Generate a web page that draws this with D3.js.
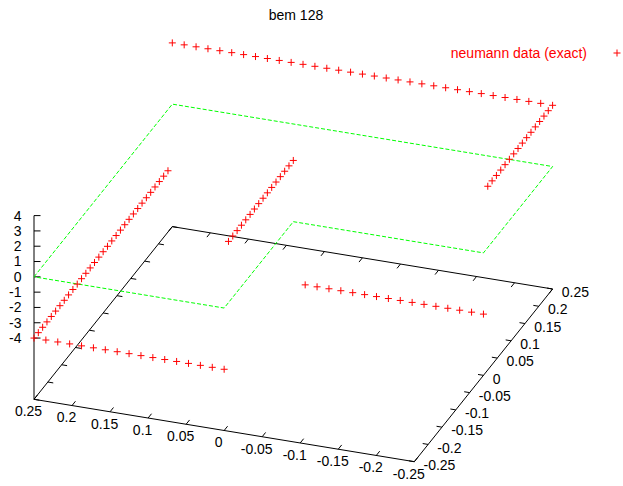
<!DOCTYPE html>
<html>
<head>
<meta charset="utf-8">
<script src="https://cdn.jsdelivr.net/npm/d3@7"></script>
<style>
  html, body { margin: 0; padding: 0; background: #fff; }
  svg { display: block; font-family: "Liberation Sans", Arial, sans-serif; }
</style>
</head>
<body>
<svg id="chart" width="623" height="486"></svg>
<script>
// ---- data -------------------------------------------------------------
const title = "bem 128";
const seriesName = "neumann data (exact)";

// Boundary nodes of the L-shaped domain, in units of 1/64
const nodeX64 = [
  -16,-15,-14,-13,-12,-11,-10,-9,-8,-7,-6,-5,-4,-3,-2,-1,
  0,0,0,0,0,0,0,0,0,0,0,0,0,0,0,0,
  0,1,2,3,4,5,6,7,8,9,10,11,12,13,14,15,
  16,16,16,16,16,16,16,16,16,16,16,16,16,16,16,16,
  16,16,16,16,16,16,16,16,16,16,16,16,16,16,16,16,
  16,15,14,13,12,11,10,9,8,7,6,5,4,3,2,1,
  0,-1,-2,-3,-4,-5,-6,-7,-8,-9,-10,-11,-12,-13,-14,-15,
  -16,-16,-16,-16,-16,-16,-16,-16,-16,-16,-16,-16,-16,-16,-16,-16
];
const nodeY64 = [
  0,0,0,0,0,0,0,0,0,0,0,0,0,0,0,0,
  0,-1,-2,-3,-4,-5,-6,-7,-8,-9,-10,-11,-12,-13,-14,-15,
  -16,-16,-16,-16,-16,-16,-16,-16,-16,-16,-16,-16,-16,-16,-16,-16,
  -16,-15,-14,-13,-12,-11,-10,-9,-8,-7,-6,-5,-4,-3,-2,-1,
  0,1,2,3,4,5,6,7,8,9,10,11,12,13,14,15,
  16,16,16,16,16,16,16,16,16,16,16,16,16,16,16,16,
  16,16,16,16,16,16,16,16,16,16,16,16,16,16,16,16,
  16,15,14,13,12,11,10,9,8,7,6,5,4,3,2,1
];
// Normal derivative at each node
const neumannValues = [
  -4,-4,-4,-4,-4,-4,-4,-4,-4,-4,-4,-4,-4,-4,-4,-4,
  4,4,4,4,4,4,4,4,4,4,4,4,4,4,4,4,
  -4,-4,-4,-4,-4,-4,-4,-4,-4,-4,-4,-4,-4,-4,-4,-4,
  -4,-4,-4,-4,-4,-4,-4,-4,-4,-4,-4,-4,-4,-4,-4,-4,
  -4,-4,-4,-4,-4,-4,-4,-4,-4,-4,-4,-4,-4,-4,-4,-4,
  4,4,4,4,4,4,4,4,4,4,4,4,4,4,4,4,
  4,4,4,4,4,4,4,4,4,4,4,4,4,4,4,4,
  4,4,4,4,4,4,4,4,4,4,4,4,4,4,4,4
];

// Domain outline (drawn at z = 0)
const outlineX = [0.25, 0.25, -0.25, -0.25, 0, 0, 0.25];
const outlineY = [-0.25, 0.25, 0.25, 0, 0, -0.25, -0.25];

// Tick labels
const xTickLabels = ["0.25","0.2","0.15","0.1","0.05","0","-0.05","-0.1","-0.15","-0.2","-0.25"];
const yTickLabels = ["-0.25","-0.2","-0.15","-0.1","-0.05","0","0.05","0.1","0.15","0.2","0.25"];
const zTickLabels = ["-4","-3","-2","-1","0","1","2","3","4"];

// ---- projection -------------------------------------------------------
const xScale = d3.scaleLinear().domain([0.25, -0.25]).range([0, 1]);
const yScale = d3.scaleLinear().domain([-0.25, 0.25]).range([0, 1]);
const zScale = d3.scaleLinear().domain([-8, 4]).range([0, -183.7]);
const origin = [34, 399.3];        // screen position of (x=0.25, y=-0.25, base)
const xSpan = [380.3, 62.4];       // screen vector along the full x range
const ySpan = [138.3, -172.7];     // screen vector along the full y range

function project(x, y, z) {
  const u = xScale(x), v = yScale(y);
  return [origin[0] + u * xSpan[0] + v * ySpan[0],
          origin[1] + u * xSpan[1] + v * ySpan[1] + zScale(z)];
}

const zBase = -8, zMin = -4, zMax = 4;
const svg = d3.select("#chart");
svg.append("rect").attr("width", 623).attr("height", 486).attr("fill", "#fff");

const fontSize = 14;
const lineGen = d3.line();

// ---- base frame -------------------------------------------------------
const frame = [
  project(0.25, -0.25, zBase), project(-0.25, -0.25, zBase),
  project(-0.25, 0.25, zBase), project(0.25, 0.25, zBase),
  project(0.25, -0.25, zBase)
];
svg.append("path").attr("d", lineGen(frame))
  .attr("fill", "none").attr("stroke", "#000").attr("stroke-width", 1);

// unit screen directions
function dir(a, b) {
  const dx = b[0] - a[0], dy = b[1] - a[1], l = Math.hypot(dx, dy);
  return [dx / l, dy / l];
}
const dirPlusY = dir(project(0, -0.25, zBase), project(0, 0.25, zBase));
const dirPlusX = dir(project(-0.25, 0, zBase), project(0.25, 0, zBase));
const ticLen = 5.5;

const axes = svg.append("g").attr("stroke", "#000").attr("stroke-width", 1).attr("fill", "none");
const labels = svg.append("g").attr("font-size", fontSize).attr("fill", "#000");

// x tics: front edge with labels, mirrored on the back edge
xTickLabels.forEach(t => {
  const v = +t;
  const p = project(v, -0.25, zBase);
  axes.append("path").attr("d", lineGen([p, [p[0] + dirPlusY[0] * ticLen, p[1] + dirPlusY[1] * ticLen]]));
  const q = project(v, 0.25, zBase);
  axes.append("path").attr("d", lineGen([q, [q[0] - dirPlusY[0] * ticLen, q[1] - dirPlusY[1] * ticLen]]));
  labels.append("text").attr("x", p[0] - 5.5).attr("y", p[1] + 12).attr("dy", "0.35em")
    .attr("text-anchor", "middle").text(t);
});

// y tics: right edge with labels, mirrored on the left edge
yTickLabels.forEach(t => {
  const v = +t;
  const p = project(-0.25, v, zBase);
  axes.append("path").attr("d", lineGen([p, [p[0] + dirPlusX[0] * ticLen, p[1] + dirPlusX[1] * ticLen]]));
  const q = project(0.25, v, zBase);
  axes.append("path").attr("d", lineGen([q, [q[0] - dirPlusX[0] * ticLen, q[1] - dirPlusX[1] * ticLen]]));
  labels.append("text").attr("x", p[0] + 9.2).attr("y", p[1] + 3.3).attr("dy", "0.35em")
    .attr("text-anchor", "start").text(t);
});

// z axis on the front-left corner
axes.append("path").attr("d", lineGen([project(0.25, -0.25, zBase), project(0.25, -0.25, zMax)]));
zTickLabels.forEach(t => {
  const p = project(0.25, -0.25, +t);
  axes.append("path").attr("d", lineGen([p, [p[0] + 6.5, p[1]]]));
  labels.append("text").attr("x", p[0] - 12.5).attr("y", p[1]).attr("dy", "0.35em")
    .attr("text-anchor", "end").text(t);
});

// ---- domain outline at z = 0 -------------------------------------------
svg.append("path")
  .attr("d", lineGen(outlineX.map((x, i) => project(x, outlineY[i], 0))))
  .attr("fill", "none").attr("stroke", "#00ff00").attr("stroke-width", 1)
  .attr("stroke-dasharray", "4,2");

// ---- Neumann data points ---------------------------------------------
function plus(p, s) {
  return `M${p[0] - s},${p[1]}H${p[0] + s}M${p[0]},${p[1] - s}V${p[1] + s}`;
}
const pts = neumannValues.map((z, i) => project(nodeX64[i] / 64, nodeY64[i] / 64, z));
svg.append("g").selectAll("path").data(pts).join("path")
  .attr("d", d => plus(d, 3.5))
  .attr("fill", "none").attr("stroke", "#ff0000").attr("stroke-width", 1);

// ---- title and key ------------------------------------------------------
svg.append("text").attr("x", 296).attr("y", 15).attr("dy", "0.35em")
  .attr("text-anchor", "middle").attr("font-size", fontSize).attr("fill", "#000").text(title);

svg.append("text").attr("x", 587).attr("y", 53).attr("dy", "0.35em")
  .attr("text-anchor", "end").attr("font-size", fontSize).attr("fill", "#ff0000").text(seriesName);
svg.append("path").attr("d", plus([617, 53], 3.5))
  .attr("fill", "none").attr("stroke", "#ff0000").attr("stroke-width", 1);
</script>
</body>
</html>
